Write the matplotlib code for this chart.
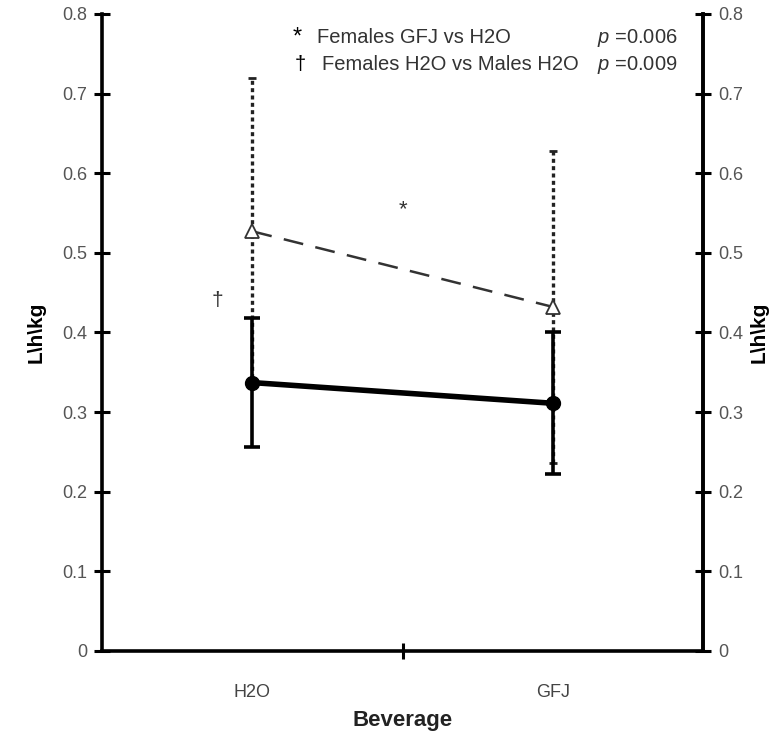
import matplotlib
matplotlib.use('Agg')
import matplotlib.pyplot as plt
from matplotlib.ticker import FuncFormatter

plt.rcParams['font.family'] = ['Liberation Sans', 'DejaVu Sans']
plt.rcParams['mathtext.fontset'] = 'custom'
plt.rcParams['mathtext.it'] = 'Liberation Sans:italic'
plt.rcParams['mathtext.rm'] = 'Liberation Sans'

beverages = ['H2O', 'GFJ']
xpos = [1, 2]

males_mean = [0.337, 0.311]
males_err = [0.081, 0.089]
females_mean = [0.527, 0.432]
females_err = [0.193, 0.196]

yticks = [0, 0.1, 0.2, 0.3, 0.4, 0.5, 0.6, 0.7, 0.8]

fig = plt.figure(figsize=(7.84, 7.33), dpi=100)
ax = fig.add_axes([0.130, 0.112, 0.767, 0.869])

# females: dashed line, open triangles, dotted error bars
eb = ax.errorbar(xpos, females_mean, yerr=females_err, fmt='none', ecolor='#222222',
                 elinewidth=2.4, capsize=3, capthick=2.0, zorder=2)
eb[2][0].set_linestyle((0, (1.2, 1.0)))
ax.plot(xpos, females_mean, color='#333333', lw=1.8, dashes=(8, 5), zorder=3)
ax.plot(xpos, females_mean, 'none', marker='^', ms=10, mfc='white', mec='#333333',
        mew=1.3, zorder=4)

# males: thick solid line, filled circles
ax.errorbar(xpos, males_mean, yerr=males_err, fmt='none', ecolor='black',
            elinewidth=2.6, capsize=6, capthick=2.6, zorder=5)
ax.plot(xpos, males_mean, color='black', lw=4, marker='o', ms=10, zorder=6)

ax.set_xlim(0.5, 2.5)
ax.set_ylim(0, 0.8)

fmt = FuncFormatter(lambda v, p: '0' if v == 0 else '%.1f' % v)
ax.set_yticks(yticks)
ax.yaxis.set_major_formatter(fmt)
ax.set_xticks(xpos)
ax.set_xticklabels(beverages)
ax.set_xticks([1.5], minor=True)

for s in ['left', 'bottom', 'right']:
    ax.spines[s].set_linewidth(2.6)
ax.spines['top'].set_visible(False)

ax.tick_params(axis='y', direction='inout', length=11, width=2.2, labelsize=13,
               labelcolor='#555555', pad=5)
ax.tick_params(axis='x', which='major', length=0, labelsize=13, labelcolor='#444444', pad=24)
ax.tick_params(axis='x', which='minor', direction='inout', length=11, width=2.2)

ax2 = ax.twinx()
ax2.set_ylim(0, 0.8)
ax2.set_yticks(yticks)
ax2.yaxis.set_major_formatter(fmt)
ax2.spines['right'].set_linewidth(2.6)
ax2.spines['top'].set_visible(False)
ax2.spines['left'].set_visible(False)
ax2.spines['bottom'].set_visible(False)
ax2.tick_params(axis='y', direction='inout', length=11, width=2.2, labelsize=13,
                labelcolor='#555555', pad=5)

ax.set_ylabel('L\\h\\kg', fontsize=15, fontweight='bold', labelpad=12)
ax2.set_ylabel('L\\h\\kg', fontsize=15, fontweight='bold', labelpad=5, rotation=90)
ax.set_xlabel('Beverage', fontsize=16, fontweight='bold', labelpad=6, color='#222222')

# significance marks
ax.text(1.5, 0.554, '*', fontsize=16, ha='center', va='center', color='#333333')
ax.text(0.883, 0.44, '\u2020', fontsize=15, ha='center', va='center', color='#333333')

# legend text
ax.text(1.136, 0.770, '*', fontsize=17, ha='left', va='center', color='black')
ax.text(1.215, 0.770, 'Females GFJ vs H2O', fontsize=14.5, ha='left', va='center', color='#333333')
ax.text(1.14, 0.736, '\u2020', fontsize=14.5, ha='left', va='center', color='black')
ax.text(1.232, 0.736, 'Females H2O vs Males H2O', fontsize=14.5, ha='left', va='center', color='#333333')
ax.text(2.147, 0.770, '$p$ =0.006', fontsize=14.5, ha='left', va='center', color='#333333')
ax.text(2.147, 0.736, '$p$ =0.009', fontsize=14.5, ha='left', va='center', color='#333333')

fig.savefig('out.png', dpi=100)
